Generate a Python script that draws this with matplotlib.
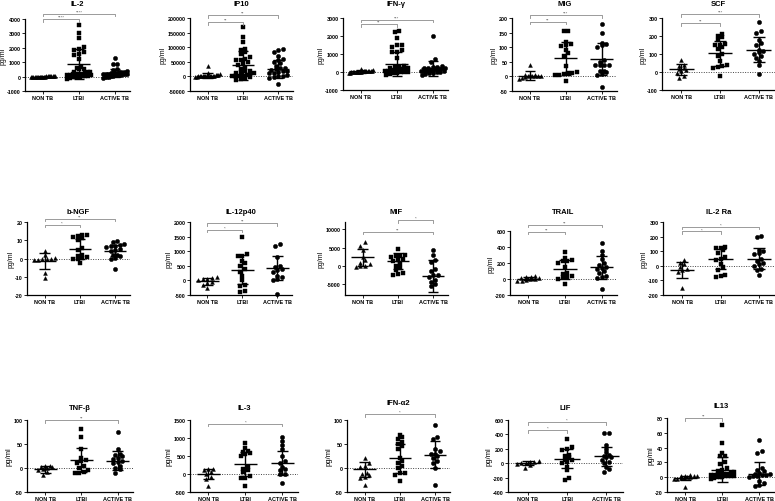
import numpy as np
import matplotlib
matplotlib.use("Agg")
import matplotlib.pyplot as plt

plt.rcParams['font.family'] = ['Liberation Sans', 'DejaVu Sans']
plt.rcParams['axes.unicode_minus'] = False

groups = ['NON TB', 'LTBI', 'ACTIVE TB']
markers = ['^', 's', 'o']

### data ###
titles = ['IL-2', 'IP10', 'IFN-γ', 'MIG', 'SCF',
          'b-NGF', 'IL-12p40', 'MIF', 'TRAIL', 'IL-2 Ra',
          'TNF-β', 'IL-3', 'IFN-α2', 'LIF', 'IL13']

il2 = [[-60, -40, -30, -20, -10, 0, 0, 10, 20, 30, 40, 50, -50, 5, -5, 15, -15, 25, -25, 60],
       [3550, 3000, 2700, 2050, 1900, 1850, 1700, 1600, 1500, 1250, 650, 550, 500, 350, 300, 300, 250,
        200, 200, 150, 150, 100, 100, 80, 50, 50, 30, 0, 0, -20, -50, -100, -150, 600],
       [1300, 850, 850, 500, 450, 350, 300, 300, 250, 250, 200, 200, 200, 150, 150, 150, 100, 100, 100,
        80, 50, 50, 0, 0, -50, -80, 400, 250]]
ip10 = [[35000, 12000, 8000, 5000, 4000, 3000, 2000, 1500, 1000, 500, 0, 0, -500, -1000, 2500, 3500, 1000, 0, 500, 2000],
        [170000, 135000, 117000, 95000, 90000, 85000, 78000, 60000, 55000, 55000, 50000, 45000, 40000, 30000,
         25000, 18000, 15000, 12000, 10000, 8000, 5000, 3000, 0, 0, -3000, -5000, -8000, -12000, 2000, 20000, 65000],
        [95000, 90000, 85000, 70000, 60000, 55000, 50000, 45000, 35000, 30000, 28000, 25000, 20000, 18000,
         15000, 12000, 10000, 5000, 2000, 0, -3000, -5000, -25000, 22000]]
ifng = [[150, 100, 80, 60, 50, 40, 30, 20, 10, 0, 0, -10, -20, -30, -50, 50, 20, 0, 30, 40],
        [2300, 2200, 1900, 1500, 1500, 1400, 1200, 1100, 1100, 800, 350, 300, 300, 250, 200, 200, 150, 150,
         100, 100, 80, 50, 50, 20, 0, 0, -30, -50, -100, -150],
        [2000, 700, 550, 350, 300, 300, 250, 250, 200, 200, 150, 150, 100, 100, 80, 50, 50, 30, 0, 0, -30,
         -50, -100, -150, 120, 180]]
mig = [[40, 6, 5, 4, 3, 2, 0, 0, -3, -5, -8, 3],
       [155, 155, 118, 110, 108, 105, 90, 80, 70, 35, 15, 12, 10, 8, 5, 5, -15],
       [178, 150, 115, 110, 108, 100, 55, 50, 40, 38, 38, 38, 20, 18, 15, 8, 5, -38]]
scf = [[65, 40, 35, 20, 15, 10, 5, -5, -20, -35],
       [210, 200, 195, 180, 155, 150, 150, 140, 130, 100, 90, 60, 40, 35, 30, 25, -20],
       [280, 230, 215, 180, 160, 150, 120, 115, 110, 100, 90, 80, 60, 40, -10]]
bngf = [[4, 2, 0.5, 0, 0, -0.5, -1, -1, -8, -10.5],
        [13, 13, 12.5, 12, 11, 10, 6, 4.5, 2, 1.5, 1, 0.5, 0, -0.5, -2.5],
        [9.5, 9, 8, 7.5, 7, 7, 6.5, 5, 4.5, 4, 2, 2, 1.5, 0.5, 0, -5.5]]
il12 = [[100, 80, 60, 50, 0, -50, -100, -150, -270],
        [1500, 900, 850, 850, 650, 600, 500, 400, 300, 150, 0, -150, -200, -350, -400],
        [1250, 1180, 800, 500, 450, 400, 350, 300, 150, 100, 50, 0, -450]]
mif = [[6400, 5500, 4200, 2500, 1500, 800, 500, 0, -200, 0],
       [4700, 3000, 2800, 2700, 2500, 2000, 1500, 1200, 500, 0, -500, -1200, -2000, -2200, -2500],
       [4200, 3000, 1500, 1000, -1000, -1500, -2500, -2500, -3000, -4000, -4500, -5000, -5500]]
trail = [[40, 30, 20, 10, 0, -10, -20, -30, 5, 15],
         [340, 260, 240, 230, 220, 200, 150, 80, 60, 40, 30, 20, 0, -60],
         [450, 350, 300, 250, 200, 180, 150, 140, 130, 100, 80, 40, 20, 10, -120]]
il2ra = [[40, 20, 10, -10, -20, -30, -40, -150],
         [130, 125, 120, 110, 90, 60, 50, 40, 10, -10, -30, -60, -70, -75],
         [205, 195, 110, 100, 90, 80, 50, 30, 20, 10, 0, -20, -30, -60]]
tnfb = [[5, 4, 3, 2, 0, -2, -5, -8, -15],
        [82, 65, 40, 20, 17, 15, 10, 5, 0, -5, -8, -10, -10],
        [75, 40, 30, 28, 25, 20, 18, 15, 12, 10, 5, 0, -3, -10]]
il3 = [[150, 130, 100, 50, 0, -80, -150, -320],
       [870, 720, 650, 600, 580, 550, 500, 200, 150, 100, 50, -50, -100, -120, -330],
       [1020, 920, 800, 700, 500, 350, 300, 200, 150, 100, 0, -10, -250]]
ifna2 = [[20, 10, 5, 3, -10, -12, -15, -18, -20, -35],
         [68, 65, 60, 55, 50, 45, 40, 20, 15, 10, 5, 0, -10, -15, -28, -10],
         [90, 65, 60, 40, 35, 30, 30, 25, 20, 15, 10, 0, -35]]
lif = [[30, 20, 10, 0, -10, -20, -60, 5],
       [340, 220, 200, 190, 120, 100, 80, 50, 40, 20, 0, -50, -100, -200, -230],
       [420, 420, 250, 200, 150, 120, 100, 90, 80, 50, 20, 0, -50, -80, -120]]
il13 = [[3, 2, 1, 0, -1, -2, -3, -13, 0, 1, -1, 2],
        [70, 46, 33, 28, 28, 20, 18, 12, 10, 8, 6, 5, 4, 3, 2, 1, 0, 0, -1, 5, 3, 2, 7, 4, 1, 0, -2],
        [50, 35, 33, 12, 10, 8, 6, 5, 3, 2, 0, -5, -8, -10, -12, 4, 3, 1]]
values = [il2, ip10, ifng, mig, scf, bngf, il12, mif, trail, il2ra, tnfb, il3, ifna2, lif, il13]

means = [[0, 850, 250], [3000, 38000, 25000], [30, 450, 200], [3, 62, 60], [14, 103, 125],
         [-1.5, 5, 4.2], [-30, 370, 420], [2300, 1200, -2800], [5, 120, 145], [-30, 45, 50],
         [-3, 17, 15], [10, 290, 310], [-3, 20, 28], [0, 65, 95], [-1, 10, 5]]
sds = [[60, 1050, 300], [10000, 50000, 31000], [60, 660, 400], [14, 57, 55], [28, 72, 70],
       [4.5, 5.5, 3], [120, 490, 410], [2400, 2200, 4400], [20, 115, 140], [55, 70, 75],
       [7.5, 25, 20], [140, 335, 330], [16, 30, 29], [30, 135, 135], [3, 17, 15]]

ylims = [(-1000, 4000), (-50000, 200000), (-1000, 3000), (-50, 200), (-100, 300),
         (-20, 20), (-500, 2000), (-8000, 12000), (-200, 600), (-200, 300),
         (-50, 100), (-500, 1500), (-50, 100), (-400, 600), (-20, 80)]
yticks = [np.arange(-1000, 4001, 1000), np.arange(-50000, 200001, 50000), np.arange(-1000, 3001, 1000),
          np.arange(-50, 201, 50), np.arange(-100, 301, 100), np.arange(-20, 21, 10),
          np.arange(-500, 2001, 500), np.arange(-5000, 10001, 5000), np.arange(-200, 601, 200),
          np.arange(-200, 301, 100), np.arange(-50, 101, 50), np.arange(-500, 1501, 500),
          np.arange(-50, 101, 50), np.arange(-400, 601, 200), np.arange(-20, 81, 20)]

# significance brackets: (from group, to group, height, stars)
brackets = [[(0, 1, 4000, '****'), (0, 2, 4350, '****')],
            [(0, 1, 186000, '**'), (0, 2, 209000, '**')],
            [(0, 1, 2650, '**'), (0, 2, 2900, '***')],
            [(0, 1, 187, '**'), (0, 2, 210, '***')],
            [(0, 1, 272, '**'), (0, 2, 322, '***')],
            [(0, 1, 18.5, '*'), (0, 2, 21.8, '**')],
            [(0, 1, 1730, '*'), (0, 2, 1960, '**')],
            [(0, 2, 9300, '**'), (1, 2, 12500, '*')],
            [(0, 1, 585, '**'), (0, 2, 680, '**')],
            [(0, 1, 235, '*'), (0, 2, 268, '*')],
            [(0, 2, 100, '**')],
            [(0, 2, 1400, '*')],
            [(0, 2, 112, '*')],
            [(0, 1, 460, '*'), (0, 2, 570, '*')],
            [(0, 1, 80, '**')]]

# axes boxes in pixels: left, top, right, bottom
boxes = [(25, 20, 130, 92), (190, 19, 293, 92), (343, 19, 448, 91), (512, 19, 617, 92), (662, 19, 775, 91),
         (27, 223, 130, 296), (190, 223, 292, 296), (345, 223, 448, 296), (510, 232, 617, 296), (663, 223, 775, 296),
         (27, 421, 133, 493), (190, 421, 298, 493), (347, 421, 450, 493), (508, 421, 623, 493), (667, 419, 775, 493)]
title_y = [4] * 5 + [212] * 5 + [409, 409, 404, 409, 407]
label_size = [5] * 10 + [5.5] * 5
no_zero = ['MIF', 'IL-12p40']

W, H = 775, 502
fig = plt.figure(figsize=(W / 100, H / 100), dpi=100)

XL = (-0.5, 2.42)


def swarm(v, ylim, hpx, wpx):
    # spread points sideways when they sit at nearly the same height
    v = np.asarray(v, float)
    ypx = (v - ylim[0]) / (ylim[1] - ylim[0]) * hpx
    xunit = wpx / (XL[1] - XL[0])
    order = np.argsort(ypx)
    off = np.zeros(len(v))
    bins, cur, start = [], [], None
    for i in order:
        if start is None or ypx[i] - start > 3.5:
            if cur:
                bins.append(cur)
            cur, start = [i], ypx[i]
        else:
            cur.append(i)
    if cur:
        bins.append(cur)
    for b in bins:
        n = len(b)
        step = min(4.6, 26.0 / max(n, 1))
        for k, i in enumerate(b):
            off[i] = (k - (n - 1) / 2) * step / xunit
    return off


for p in range(15):
    l, t, r, b = boxes[p]
    ax = fig.add_axes([l / W, 1 - b / H, (r - l) / W, (b - t) / H])
    ax.set_xlim(*XL)
    ax.set_ylim(*ylims[p])
    for g in range(3):
        v = np.asarray(values[p][g], float)
        off = swarm(v, ylims[p], b - t, r - l)
        ms = 2.8 if g == 0 else 3.1
        ax.plot(g + off, v, linestyle='none', marker=markers[g], ms=ms, color='black', mec='black',
                mew=0.3, clip_on=False)
        m, s = means[p][g], sds[p][g]
        ax.hlines(m, g - 0.32, g + 0.32, color='black', lw=1.0, zorder=3)
        ax.vlines(g, m - s, m + s, color='black', lw=1.0, zorder=3)
        ax.hlines([m - s, m + s], g - 0.15, g + 0.15, color='black', lw=1.0, zorder=3)
    if titles[p] not in no_zero:
        ax.axhline(0, color='#444444', lw=0.7, linestyle=(0, (1, 1.5)), zorder=1)
    yr = ylims[p][1] - ylims[p][0]
    for i, j, y, s in brackets[p]:
        leg = yr * 0.035
        ax.plot([i, i, j, j], [y - leg, y, y, y - leg], color='#8a8a8a', lw=0.6, clip_on=False)
        ax.text((i + j) / 2, y + yr * 0.003, s, ha='center', va='bottom', fontsize=3.2,
                color='#555555', clip_on=False)
    ax.set_xticks(range(3))
    ax.set_xticklabels(groups, fontsize=4.0, fontweight='bold')
    ax.set_yticks(yticks[p])
    ax.set_yticklabels([str(int(k)) for k in yticks[p]], fontsize=3.9, fontweight='bold')
    ax.tick_params(length=2, width=0.6, pad=1.2)
    for sp in ['top', 'right']:
        ax.spines[sp].set_visible(False)
    for sp in ['left', 'bottom']:
        ax.spines[sp].set_linewidth(0.9)
    ax.set_ylabel('pg/ml', fontsize=label_size[p], labelpad=0.5)
    fig.text((l + r) / 2 / W, 1 - title_y[p] / H, titles[p], ha='center', va='center',
             fontsize=5.5, fontweight='bold')

fig.savefig('out.png', dpi=100)
